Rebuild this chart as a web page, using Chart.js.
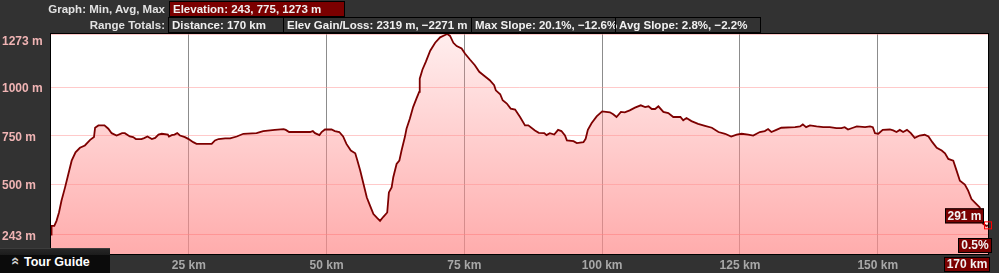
<!DOCTYPE html>
<html>
<head>
<meta charset="utf-8">
<script src="https://cdn.jsdelivr.net/npm/chart.js@4/dist/chart.umd.min.js"></script>
<style>
  body { margin: 0; width: 999px; height: 273px; overflow: hidden; position: relative;
         background: #323232; font: bold 11.5px "Liberation Sans", Arial, sans-serif; }
  #c { position: absolute; left: 0; top: 0; }
  .lbl { position: absolute; left: 0; width: 165px; text-align: right; color: #e2e2e2; line-height: 16px; }
  .box { position: absolute; box-sizing: border-box; height: 16px; border: 1px solid #000;
         color: #f0f0f0; line-height: 14px; padding-left: 3px; white-space: nowrap; }
  .red { background: #7b0000; }
  .tour { position: absolute; left: 0; top: 248px; width: 110px; height: 25px;
          background: linear-gradient(#262626 0, #1c1c1c 6px, #0b0b0b 6px); border-top: 1px solid #3c3c3c;
          box-sizing: border-box; color: #fff; font-size: 12.5px; line-height: 26px; padding-left: 24px; }
  .tour .chev { position: absolute; left: 10px; top: -1px; color: #cfcfcf; font-size: 15px;
                transform: rotate(-90deg); display: inline-block; }
</style>
</head>
<body>
<canvas id="c" width="999" height="273"></canvas>

<div class="lbl" style="top:1px">Graph: Min, Avg, Max</div>
<div class="box red" style="top:1px;left:169px;width:176px">Elevation: 243, 775, 1273 m</div>

<div class="lbl" style="top:17px">Range Totals:</div>
<div class="box" style="top:17px;left:168px;width:116px">Distance: 170 km</div>
<div class="box" style="top:17px;left:283px;width:189px">Elev Gain/Loss: 2319 m, &minus;2271 m</div>
<div class="box" style="top:17px;left:471px;width:145px">Max Slope: 20.1%, &minus;12.6%</div>
<div class="box" style="top:17px;left:615px;width:146px">Avg Slope: 2.8%, &minus;2.2%</div>

<div class="tour"><span class="chev">&raquo;</span>Tour Guide</div>

<script>
// elevation profile, distance in km and elevation in m
const kms = [
  0, 0.1, 0.6, 1.0, 1.45, 1.9, 2.55, 3.15, 3.75, 4.45, 5.25, 6.15, 7.1, 7.8, 8.0, 8.6, 9.7, 10.4,
  11.0, 11.9, 12.9, 13.4, 14.3, 14.9, 15.4, 16.4, 16.9, 17.5, 18.3, 18.9, 19.5, 20.1, 21.2, 21.4,
  21.9, 22.4, 22.9, 23.4, 24.3, 24.9, 25.8, 26.4, 29.15, 29.75, 30.4, 31.6, 32.5, 33.7, 34.9, 37.3,
  38.5, 40.6, 42.2, 42.6, 43.2, 47.0, 47.5, 47.9, 48.7, 49.1, 49.7, 50.9, 51.5, 52.3, 53.0, 53.6,
  54.4, 55.2, 55.6, 56.1, 56.7, 57.3, 57.9, 58.5, 59.2, 59.7, 60.3, 61.0, 61.3, 61.8, 62.1, 62.7,
  63.2, 63.6, 64.2, 64.5, 65.1, 65.7, 66.3, 66.8, 66.9, 67.4, 68.0, 68.8, 69.7, 70.6, 71.5, 71.9,
  72.4, 73.0, 73.6, 74.5, 75.1, 76.0, 76.9, 77.7, 78.7, 79.6, 80.4, 80.7, 81.5, 81.95, 82.7, 83.4,
  84.2, 85.1, 86.0, 86.6, 87.8, 88.5, 89.5, 89.9, 90.5, 91.3, 92.0, 92.6, 93.25, 93.6, 94.8, 95.4,
  96.6, 97.0, 97.4, 98.1, 99.0, 100.0, 101.4, 102.0, 102.6, 103.4, 104.1, 105.0, 105.95, 107.0,
  107.8, 108.4, 109.0, 109.6, 110.2, 111.1, 112.0, 112.9, 114.2, 114.7, 115.3, 116.2, 117.4,
  118.65, 119.9, 121.1, 122.3, 123.4, 124.4, 125.3, 126.5, 127.4, 128.6, 129.5, 130.1, 130.7,
  131.6, 132.5, 135.0, 135.9, 136.4, 137.0, 137.7, 138.9, 140.1, 141.3, 142.5, 143.4, 144.0,
  144.6, 145.5, 146.2, 147.7, 148.6, 149.1, 149.5, 150.1, 150.9, 152.2, 152.8, 153.4, 154.0,
  154.6, 155.3, 156.0, 156.7, 157.6, 158.5, 159.2, 159.9, 160.7, 161.6, 162.2, 162.8, 163.7,
  164.3, 164.9, 165.8, 166.4, 167.0, 167.9, 168.5, 169.1, 169.7, 170
];
const elevs = [
  243, 288, 288, 314, 357, 417, 486, 555, 623, 666, 689, 701, 730, 744, 792, 804, 804, 787,
  764, 752, 764, 764, 747, 744, 734, 734, 739, 747, 734, 740, 757, 761, 757, 747,
  754, 757, 764, 752, 744, 735, 718, 709, 709, 727, 734, 737, 737, 747, 761, 764,
  775, 781, 785, 781, 770, 770, 775, 764, 754, 770, 783, 783, 775, 770, 747, 709,
  675, 661, 623, 572, 503, 434, 391, 349, 328, 314, 335, 357, 460, 486, 538, 606,
  623, 675, 744, 787, 838, 898, 941, 976, 1044, 1091, 1130, 1187, 1228, 1256, 1268, 1273,
  1263, 1228, 1211, 1199, 1173, 1142, 1113, 1079, 1056, 1036, 1010, 984, 964, 933, 916, 890,
  885, 847, 804, 804, 778, 766, 764, 754, 764, 757, 781, 775, 752, 727, 723, 713,
  718, 735, 781, 816, 850, 876, 871, 861, 847, 873, 871, 881, 895, 907,
  898, 902, 888, 888, 902, 873, 867, 847, 847, 830, 842, 826, 812,
  802, 792, 770, 761, 747, 757, 761, 757, 752, 770, 775, 785, 770,
  781, 792, 795, 799, 809, 795, 804, 799, 795, 795, 790, 790, 795,
  783, 792, 799, 795, 799, 795, 764, 761, 781, 783, 778, 770, 781,
  770, 781, 764, 740, 752, 756, 747, 718, 689, 675, 661, 632, 623,
  572, 520, 500, 469, 426, 400, 383, 300, 288, 291
];
const xTickValues = [25, 50, 75, 100, 125, 150];
const yTickValues = [243, 500, 750, 1000, 1273];
const distanceMax = 170;
const endSlope = "0.5%";

const FONT = 'bold 12px "Liberation Sans", Arial, sans-serif';

function labelBox(ctx, text, l, t, w, h) {
  ctx.fillStyle = "#7b0000";
  ctx.fillRect(l, t, w, h);
  ctx.strokeStyle = "#000";
  ctx.lineWidth = 1;
  ctx.strokeRect(l + 0.5, t + 0.5, w - 1, h - 1);
  ctx.fillStyle = "#f2f2f2";
  ctx.textAlign = "center";
  ctx.textBaseline = "middle";
  ctx.fillText(text, l + w / 2, t + h / 2 + 0.5);
}

// white plot background, frame, elevation labels and the end-of-range boxes
const profileDecor = {
  id: "profileDecor",
  beforeDraw(chart) {
    const { ctx, chartArea: a } = chart;
    ctx.save();
    ctx.fillStyle = "#fff";
    ctx.fillRect(a.left, a.top, a.right - a.left, a.bottom - a.top);
    ctx.restore();
  },
  afterDraw(chart) {
    const { ctx, chartArea: a, scales: { x, y } } = chart;
    ctx.save();
    ctx.strokeStyle = "#000";
    ctx.lineWidth = 1;
    ctx.strokeRect(a.left - 0.5, a.top - 0.5, a.right - a.left + 1, a.bottom - a.top + 1);

    ctx.font = FONT;
    ctx.fillStyle = "#f0b4b4";
    ctx.textAlign = "left";
    ctx.textBaseline = "middle";
    yTickValues.forEach((v) => {
      const py = Math.max(y.getPixelForValue(v) + 1.5, a.top + 8);
      ctx.fillText(v + " m", 2, py);
    });

    const last = kms.length - 1;
    const px = x.getPixelForValue(kms[last]);
    const py = y.getPixelForValue(elevs[last]);
    ctx.strokeStyle = "#ff0000";
    ctx.strokeRect(px - 3.5, py - 3.5, 7, 7);
    labelBox(ctx, elevs[last] + " m", px - 43, py - 17, 39, 15);
    labelBox(ctx, endSlope, a.right - 30, a.bottom - 16, 34, 15);
    labelBox(ctx, distanceMax + " km", x.getPixelForValue(distanceMax) - 44, a.bottom + 3, 46, 15);
    ctx.restore();
  },
};

new Chart(document.getElementById("c"), {
  type: "line",
  data: {
    datasets: [
      {
        data: kms.map((k, i) => ({ x: k, y: elevs[i] })),
        borderColor: "#7d0000",
        borderWidth: 1.8,
        pointRadius: 0,
        tension: 0,
        fill: "start",
        backgroundColor: (c) => {
          const { ctx, chartArea } = c.chart;
          if (!chartArea) return "rgba(255,140,140,0.4)";
          const g = ctx.createLinearGradient(0, chartArea.top, 0, chartArea.bottom);
          g.addColorStop(0, "rgba(255,140,140,0.15)");
          g.addColorStop(1, "rgba(255,140,140,0.72)");
          return g;
        },
      },
    ],
  },
  options: {
    responsive: false,
    animation: false,
    devicePixelRatio: 1,
    layout: { padding: { left: 0, top: 34, right: 11, bottom: 0 } },
    plugins: { legend: { display: false }, tooltip: { enabled: false } },
    scales: {
      x: {
        type: "linear",
        min: 0,
        max: distanceMax,
        afterBuildTicks: (s) => { s.ticks = xTickValues.map((v) => ({ value: v })); },
        afterFit: (s) => { s.height = 19; },
        grid: { color: "#8c8c8c", drawTicks: false },
        border: { display: false },
        ticks: {
          color: "#a8a8a8",
          font: { family: '"Liberation Sans", Arial, sans-serif', size: 12, weight: "bold" },
          padding: 4,
          maxRotation: 0,
          autoSkip: false,
          callback: (v) => v + " km",
        },
      },
      y: {
        min: 144,
        max: 1273,
        afterBuildTicks: (s) => { s.ticks = yTickValues.map((v) => ({ value: v })); },
        afterFit: (s) => { s.width = 51; },
        ticks: { display: false },
        grid: {
          color: (c) => (c.tick && c.tick.value === 243 ? "rgba(255,110,110,0.6)" : "rgba(255,150,150,0.5)"),
          drawTicks: false,
        },
        border: { display: false },
      },
    },
  },
  plugins: [profileDecor],
});
</script>
</body>
</html>
